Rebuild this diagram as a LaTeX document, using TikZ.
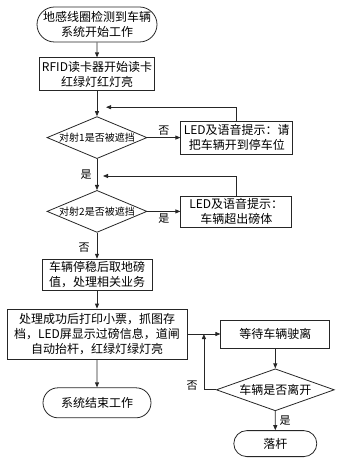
\documentclass[tikz,border=0pt]{standalone}
\usepackage{fontspec}
\setmainfont{Noto Sans CJK SC}
\usetikzlibrary{positioning, calc, arrows.meta, shapes.geometric, shapes.misc}

\begin{document}
\begin{tikzpicture}[
        term/.style={rounded rectangle, draw=black!85, line width=0.8pt, inner sep=1pt, align=center, font=\fontsize{12pt}{15pt}\selectfont},
        proc/.style={rectangle, draw=black!85, line width=0.8pt, inner sep=1pt, align=center, font=\fontsize{12pt}{15pt}\selectfont},
        decide/.style={diamond, draw=black!85, line width=0.8pt, inner sep=0pt, aspect=2.4, align=center, font=\fontsize{10pt}{12pt}\selectfont},
        lbl/.style={font=\fontsize{11pt}{13pt}\selectfont, inner sep=2pt},
        arrow/.style={-{Triangle[length=5pt, width=4pt]}, line width=0.8pt, draw=black!85}
    ]
        \useasboundingbox (0,0) rectangle (338pt,-462pt);
        % main column
        \node[term, minimum width=122pt, minimum height=35pt] (start) at (97pt,-24.5pt) {地感线圈检测到车辆\\系统开始工作};
        \node[proc, minimum width=115pt, minimum height=33pt, below=15pt of start] (rfid) {RFID读卡器开始读卡\\红绿灯红灯亮};
        \node[decide, minimum width=100pt, minimum height=42pt, below=25pt of rfid] (check1) {对射1是否被遮挡};
        \node[proc, minimum width=112pt, minimum height=33pt, right=33pt of check1] (warn1) {LED及语音提示：请\\把车辆开到停车位};
        \node[decide, minimum width=100pt, minimum height=42pt, below=31pt of check1] (check2) {对射2是否被遮挡};
        \node[proc, minimum width=111pt, minimum height=31pt, right=33pt of check2] (warn2) {LED及语音提示：\\车辆超出磅体};
        \node[proc, minimum width=110pt, minimum height=31pt, below=26pt of check2] (weigh) {车辆停稳后取地磅\\值，处理相关业务};
        \node[proc, minimum width=180pt, minimum height=50pt, below=18pt of weigh] (finish) {处理成功后打印小票，抓图存\\档，LED屏显示过磅信息，道闸\\自动抬杆，红绿灯绿灯亮};
        \node[term, minimum width=110pt, minimum height=30pt, below=28pt of finish] (stop) {系统结束工作};
        % exit column
        \node[proc, minimum width=109pt, minimum height=28pt, right=33pt of finish] (wait) {等待车辆驶离};
        \node[decide, aspect=2.8, minimum width=118pt, minimum height=42pt, below=20pt of wait, font=\fontsize{12pt}{15pt}\selectfont] (left) {车辆是否离开};
        \node[term, minimum width=85pt, minimum height=26pt, below=19pt of left] (lower) {落杆};

        \coordinate (back1) at ($(check1.north)+(9pt,9pt)$);
        \coordinate (back2) at ($(check2.north)+(6pt,14pt)$);
        \coordinate (merge) at ($(finish.east)!0.5!(wait.west)$);

        \draw[arrow] (start) -- (rfid);
        \draw[arrow] (rfid) -- (check1);
        \draw[arrow] (check1) -- node[lbl, above] {否} (warn1);
        \draw[arrow] (warn1.north) |- (back1);
        \draw[arrow] (check1) -- node[lbl, left=3pt] {是} (check2);
        \draw[arrow] (check2) -- node[lbl, below] {是} (warn2);
        \draw[arrow] (warn2.north) |- (back2);
        \draw[arrow] (check2) -- node[lbl, left=5pt, pos=0.58] {否} (weigh);
        \draw[arrow] (weigh) -- (finish);
        \draw[arrow] (finish) -- (stop);
        \draw[arrow] (finish) -- (wait);
        \draw[arrow] (wait) -- (left);
        \draw[arrow] (left.west) -| node[lbl, left=4pt, pos=0.54] {否} (merge);
        \draw[arrow] (left) -- node[lbl, right=2pt] {是} (lower);
    \end{tikzpicture}
\end{document}
